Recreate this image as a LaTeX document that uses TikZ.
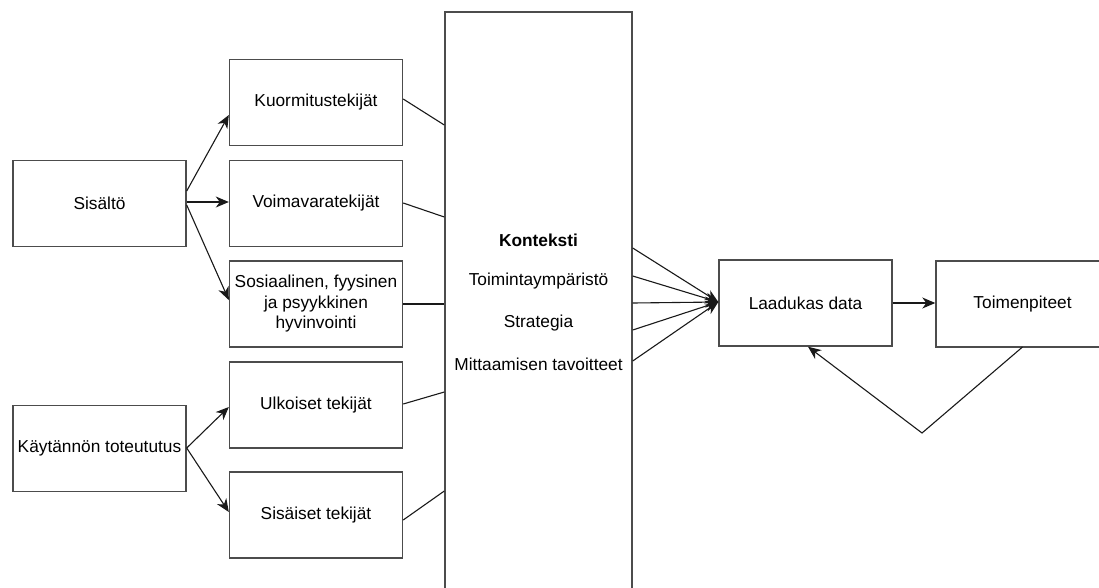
\documentclass[tikz,border=0pt]{standalone}
\usepackage{fontspec}
\setmainfont{Liberation Sans}
\usetikzlibrary{arrows.meta,calc}
\begin{document}
\begin{tikzpicture}[x=1pt,y=-1pt,
  box/.style={draw=black!70,line width=1.4pt,minimum width=173pt,minimum height=86pt,inner sep=2pt,align=center,font=\fontsize{17.3}{20.5}\selectfont},
  lbl/.style={inner sep=0pt,font=\fontsize{17.3}{20.5}\selectfont},
  conn/.style={draw=black!90,line width=1.1pt},
  arr/.style={conn,-{Stealth[length=13pt,width=11pt,inset=4pt]}}]
\path[use as bounding box] (0,0) rectangle (1099,587);
\clip (0,0) rectangle (1099,587);
\node[box] (sis) at (99.5,203.5) {Sisältö};
\node[box] (kay) at (99.5,448.5) {Käytännön toteututus};
\node[box] (kuo) at (316,102.5) {Kuormitustekijät};
\node[box] (voi) at (316,203.5) {Voimavaratekijät};
\node[box] (sos) at (316,304) {Sosiaalinen, fyysinen\\ja psyykkinen\\hyvinvointi};
\node[box] (ulk) at (316,405) {Ulkoiset tekijät};
\node[box] (sisa) at (316,515) {Sisäiset tekijät};
\node[box,minimum width=187pt,minimum height=592pt] (kon) at (538.5,308) {};
\node[lbl,font=\fontsize{17.3}{20.5}\selectfont\bfseries] (t1) at (538.5,240) {Konteksti};
\node[lbl] (t2) at (538.5,281) {Toimintaympäristö};
\node[lbl] (t3) at (538.5,323) {Strategia};
\node[lbl] (t4) at (538.5,364) {Mittaamisen tavoitteet};
\node[box] (lad) at (805.5,303) {Laadukas data};
\node[box] (toi) at (1022.5,304) {Toimenpiteet};
% fan from Sisältö
\draw[arr] (sis.east |- {0,191}) -- (kuo.west |- {0,115});
\draw[arr] (sis.east |- {0,202}) -- (voi.west |- {0,202});
\draw[arr] (sis.east |- {0,205}) -- (sos.west |- {0,300});
% fan from Käytännön
\draw[arr] (kay.east |- {0,448}) -- (ulk.west |- {0,407});
\draw[arr] (kay.east |- {0,448}) -- (sisa.west |- {0,512});
% lines into Konteksti
\draw[conn] (kuo.east |- {0,99}) -- (kon.west |- {0,125});
\draw[conn] (voi.east |- {0,203}) -- (kon.west |- {0,217});
\draw[conn] (sos.east |- {0,304}) -- (kon.west |- {0,304});
\draw[conn] (ulk.east |- {0,404}) -- (kon.west |- {0,392});
\draw[conn] (sisa.east |- {0,520}) -- (kon.west |- {0,491});
% fan from Konteksti to Laadukas data
\foreach \yy in {248,276,303,330,361}{
  \draw[arr] (kon.east |- {0,\yy}) -- (lad.west |- {0,302});
}
\draw[arr] (lad.east |- {0,303}) -- (toi.west |- {0,303});
\coordinate (fb) at (922,433);
\draw[arr] (toi.south |- {0,347}) -- (fb) -- ({808,0} |- lad.south);
\end{tikzpicture}
\end{document}
